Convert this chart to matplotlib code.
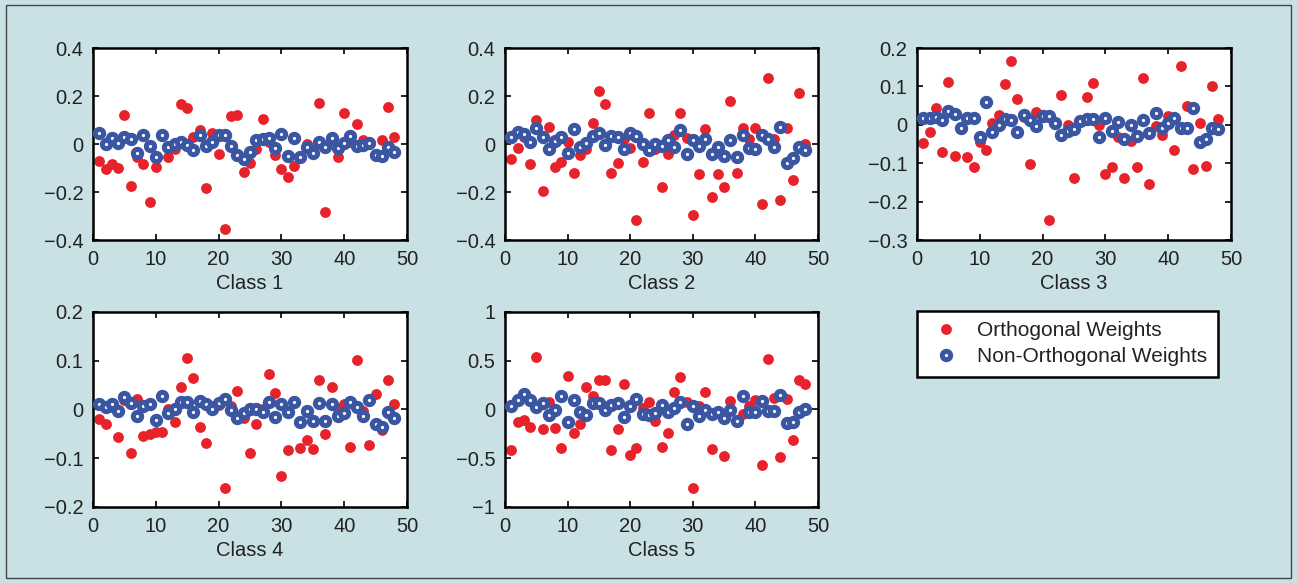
import numpy as np
import matplotlib
matplotlib.use("Agg")
import matplotlib.pyplot as plt
from matplotlib.lines import Line2D
from matplotlib.patches import Rectangle
from matplotlib.ticker import FuncFormatter

plt.rcParams['font.family'] = ['Liberation Sans', 'DejaVu Sans']

# indices 1..48
idx = list(range(1, 49))

# Class 1
orth_c1 = [-0.07, -0.104, -0.085, -0.099, 0.119, -0.174, -0.056, -0.085, -0.243, -0.094,
           0.035, -0.056, -0.02, 0.167, 0.149, 0.03, 0.058, -0.182, 0.047, -0.042,
           -0.355, 0.115, 0.121, -0.115, -0.078, -0.02, 0.106, 0.01, -0.046, -0.104,
           -0.139, -0.092, -0.053, 0.0, -0.03, 0.171, -0.282, 0.017, -0.053, 0.13,
           0.01, 0.083, 0.017, 0.0, -0.04, 0.017, 0.156, 0.028]
nonorth_c1 = [0.044, 0.0, 0.024, 0.003, 0.03, 0.019, -0.036, 0.037, -0.008, -0.056,
              0.037, -0.014, 0.0, 0.01, -0.004, -0.025, 0.037, -0.008, 0.01, 0.037,
              0.037, -0.008, -0.046, -0.064, -0.032, 0.018, 0.02, 0.024, -0.018, 0.042,
              -0.05, 0.026, -0.056, -0.014, -0.036, 0.01, -0.014, 0.024, -0.018, 0.003,
              0.033, -0.008, -0.004, 0.005, -0.046, -0.05, -0.014, -0.032]

# Class 2
orth_c2 = [-0.064, -0.015, 0.03, -0.085, 0.1, -0.194, 0.072, -0.094, -0.074, 0.01,
           -0.119, -0.046, -0.02, 0.086, 0.221, 0.167, -0.119, -0.081, 0.02, -0.018,
           -0.317, -0.074, 0.128, -0.02, -0.178, -0.043, 0.037, 0.13, 0.024, -0.296,
           -0.125, 0.061, -0.222, -0.125, -0.178, 0.181, -0.119, 0.065, 0.02, 0.065,
           -0.25, 0.274, 0.02, -0.233, 0.065, -0.15, 0.211, 0.0]
nonorth_c2 = [0.028, 0.051, 0.04, 0.01, 0.065, 0.03, -0.02, 0.014, 0.03, -0.039,
              0.061, -0.012, 0.003, 0.033, 0.044, -0.004, 0.035, 0.028, -0.02, 0.044,
              0.033, 0.0, -0.025, 0.0, -0.008, 0.017, -0.014, 0.058, -0.04, 0.017,
              -0.008, 0.02, -0.04, -0.011, -0.05, 0.017, -0.053, 0.037, -0.018, -0.022,
              0.037, 0.02, -0.011, 0.07, -0.078, -0.06, -0.014, -0.025]

# Class 3
orth_c3 = [-0.048, -0.02, 0.043, -0.07, 0.112, -0.081, -0.012, -0.084, -0.109, -0.044,
           -0.066, 0.004, 0.026, 0.106, 0.167, 0.066, 0.02, -0.103, 0.034, 0.02,
           -0.248, 0.004, 0.078, 0.0, -0.139, 0.01, 0.072, 0.11, 0.0, -0.128,
           -0.111, -0.031, -0.139, -0.041, -0.109, 0.121, -0.154, -0.003, -0.027, 0.023,
           -0.066, 0.153, 0.049, -0.116, 0.004, -0.107, 0.101, 0.014]
nonorth_c3 = [0.017, 0.019, 0.021, 0.012, 0.037, 0.028, -0.009, 0.017, 0.017, -0.033,
              0.059, -0.018, -0.001, 0.015, 0.012, -0.018, 0.026, 0.012, -0.004, 0.023,
              0.023, 0.004, -0.027, -0.016, -0.012, 0.01, 0.014, 0.014, -0.033, 0.017,
              -0.016, 0.007, -0.036, -0.001, -0.029, 0.012, -0.022, 0.032, -0.009, 0.004,
              0.017, -0.008, -0.009, 0.043, -0.044, -0.036, -0.009, -0.011]

# Class 4
orth_c4 = [-0.019, -0.03, 0.005, -0.056, 0.02, -0.09, 0.022, -0.054, -0.051, -0.046,
           -0.047, 0.0, -0.025, 0.047, 0.106, 0.065, -0.035, -0.069, 0.007, 0.01,
           -0.162, 0.007, 0.038, -0.017, -0.09, -0.03, 0.0, 0.072, 0.033, -0.136,
           -0.083, 0.018, -0.078, -0.063, -0.081, 0.06, -0.051, 0.047, 0.0, 0.012,
           -0.076, 0.102, -0.003, -0.073, 0.031, -0.042, 0.06, 0.012]
nonorth_c4 = [0.011, 0.006, 0.011, -0.004, 0.026, 0.013, -0.013, 0.008, 0.011, -0.022,
              0.028, -0.008, 0.0, 0.016, 0.015, -0.006, 0.018, 0.011, 0.0, 0.013,
              0.022, -0.002, -0.017, -0.008, 0.002, 0.0, -0.006, 0.015, -0.015, 0.011,
              -0.006, 0.016, -0.026, -0.004, -0.024, 0.013, -0.024, 0.011, -0.013, -0.008,
              0.016, 0.006, -0.013, 0.02, -0.029, -0.035, -0.006, -0.017]

# Class 5
orth_c5 = [-0.415, -0.131, -0.108, -0.176, 0.542, -0.2, 0.08, -0.19, -0.39, 0.347,
           -0.244, -0.152, 0.234, 0.142, 0.303, 0.303, -0.415, -0.2, 0.258, -0.467,
           -0.39, 0.02, 0.074, -0.118, -0.381, -0.244, 0.176, 0.336, 0.08, -0.809,
           0.04, 0.176, -0.405, -0.03, -0.474, 0.087, -0.108, -0.05, 0.04, 0.1,
           -0.569, 0.518, 0.121, -0.484, 0.108, -0.313, 0.303, 0.258]
nonorth_c5 = [0.039, 0.097, 0.156, 0.097, 0.029, 0.063, -0.056, -0.005, 0.142, -0.131,
              0.097, -0.029, -0.056, 0.07, 0.07, -0.005, 0.05, 0.07, -0.074, 0.039,
              0.104, -0.05, -0.056, -0.039, 0.046, -0.022, 0.012, 0.08, -0.152, 0.039,
              -0.063, -0.005, -0.05, -0.029, -0.087, -0.005, -0.118, 0.142, -0.029, -0.029,
              0.084, -0.015, -0.015, 0.149, -0.138, -0.131, -0.029, 0.005]

class_names = ['Class 1', 'Class 2', 'Class 3', 'Class 4', 'Class 5']
ylims = [(-0.4, 0.4), (-0.4, 0.4), (-0.3, 0.2), (-0.2, 0.2), (-1, 1)]
yticks = [[-0.4, -0.2, 0, 0.2, 0.4], [-0.4, -0.2, 0, 0.2, 0.4],
          [-0.3, -0.2, -0.1, 0, 0.1, 0.2], [-0.2, -0.1, 0, 0.1, 0.2],
          [-1, -0.5, 0, 0.5, 1]]
orth_all = [orth_c1, orth_c2, orth_c3, orth_c4, orth_c5]
nonorth_all = [nonorth_c1, nonorth_c2, nonorth_c3, nonorth_c4, nonorth_c5]

red = '#e8222a'
blue = '#3a56a3'
bg = '#c9e1e5'
txt = '#222222'

W, H = 1297, 583
fig = plt.figure(figsize=(W / 100, H / 100), dpi=100, facecolor=bg)

# axes boxes in pixels: (left, top, right, bottom)
boxes = [(93, 48, 407, 240), (505, 48, 818, 240), (917, 48, 1231, 240),
         (93, 312, 407, 507), (505, 312, 818, 507)]

fmt = FuncFormatter(lambda v, p: ('%g' % v).replace('-', '\u2212'))

red_ms = 7.8
blue_ms, blue_mew = 6.0, 3.6

for k in range(5):
    l, t, r, b = boxes[k]
    ax = fig.add_axes([l / W, 1 - b / H, (r - l) / W, (b - t) / H])
    ax.plot(idx, orth_all[k], 'o', color=red, ms=red_ms, mec='none', zorder=2)
    ax.plot(idx, nonorth_all[k], 'o', mfc='white', mec=blue, ms=blue_ms, mew=blue_mew, zorder=3)
    ax.set_xlim(0, 50)
    ax.set_ylim(*ylims[k])
    ax.set_xticks([0, 10, 20, 30, 40, 50])
    ax.set_yticks(yticks[k])
    ax.yaxis.set_major_formatter(fmt)
    ax.tick_params(direction='in', top=True, right=True, length=4, width=1.2,
                   labelsize=14.5, labelcolor=txt, pad=7)
    ax.tick_params(axis='x', pad=7)
    for s in ax.spines.values():
        s.set_linewidth(1.8)
    ax.set_xlabel(class_names[k], fontsize=14.5, labelpad=3.5, color=txt)

# legend
h1 = Line2D([], [], ls='none', marker='o', color=red, ms=red_ms, mec='none')
h2 = Line2D([], [], ls='none', marker='o', mfc='white', mec=blue, ms=blue_ms, mew=blue_mew)
leg = fig.legend([h1, h2], ['Orthogonal Weights', 'Non-Orthogonal Weights'],
                 loc='upper left', bbox_to_anchor=(917 / W, 1 - 311 / H),
                 borderaxespad=0, fontsize=15, frameon=True, fancybox=False,
                 framealpha=1, edgecolor='black', borderpad=0.5,
                 handletextpad=0.6, labelspacing=0.32, handlelength=1.8)
leg.get_frame().set_linewidth(1.8)
for t in leg.get_texts():
    t.set_color(txt)

# outer figure border
fig.patches.append(Rectangle((6 / W, 5 / H), (1291 - 6) / W, (578 - 5) / H,
                             transform=fig.transFigure, fill=False,
                             edgecolor='#444444', linewidth=1.0))

fig.savefig('out.png', dpi=100, facecolor=bg)
